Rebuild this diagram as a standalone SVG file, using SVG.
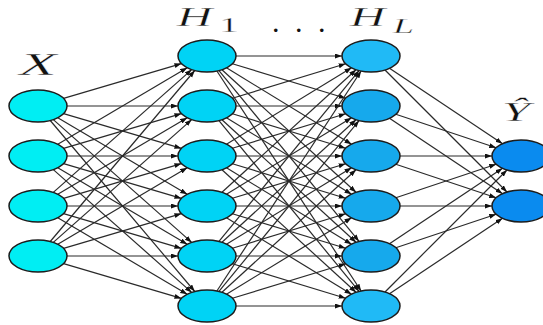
<svg xmlns="http://www.w3.org/2000/svg" width="543" height="325" viewBox="0 0 543 325">
<style>
.n ellipse{stroke:#1c1c1c;stroke-width:1.5}
.in{fill:#00eef3}
.h1{fill:#00d3f5}
.hla{fill:#20baf6}
.hlb{fill:#16a9ec}
.out{fill:#0a8bef}
#edges line{stroke:#2a2a2a;stroke-width:1.2;marker-end:url(#ah)}
.lbl{font-family:"Liberation Serif","Times New Roman",serif;fill:#111;stroke:#fff;stroke-width:0.35}
.it{font-style:italic}
</style>
<defs>
<marker id="ah" markerUnits="userSpaceOnUse" markerWidth="8" markerHeight="6" refX="7" refY="2.5" orient="auto">
<path d="M0,0 L7,2.5 L0,5 z" fill="#111"/>
</marker>
</defs>
<rect width="543" height="325" fill="#fff"/>
<g id="edges">
<line x1="63.56" y1="98.44" x2="181.44" y2="63.56"/>
<line x1="67" y1="106" x2="178" y2="106"/>
<line x1="63.56" y1="113.56" x2="181.44" y2="148.44"/>
<line x1="57.78" y1="117.7" x2="187.22" y2="194.3"/>
<line x1="53.31" y1="119.59" x2="191.69" y2="242.41"/>
<line x1="50.25" y1="120.5" x2="194.75" y2="291.5"/>
<line x1="57.78" y1="144.3" x2="187.22" y2="67.7"/>
<line x1="63.56" y1="148.44" x2="181.44" y2="113.56"/>
<line x1="67" y1="156" x2="178" y2="156"/>
<line x1="63.56" y1="163.56" x2="181.44" y2="198.44"/>
<line x1="57.78" y1="167.7" x2="187.22" y2="244.3"/>
<line x1="53.31" y1="169.59" x2="191.69" y2="292.41"/>
<line x1="53.31" y1="192.41" x2="191.69" y2="69.59"/>
<line x1="57.78" y1="194.3" x2="187.22" y2="117.7"/>
<line x1="63.56" y1="198.44" x2="181.44" y2="163.56"/>
<line x1="67" y1="206" x2="178" y2="206"/>
<line x1="63.56" y1="213.56" x2="181.44" y2="248.44"/>
<line x1="57.78" y1="217.7" x2="187.22" y2="294.3"/>
<line x1="50.25" y1="241.5" x2="194.75" y2="70.5"/>
<line x1="53.31" y1="242.41" x2="191.69" y2="119.59"/>
<line x1="57.78" y1="244.3" x2="187.22" y2="167.7"/>
<line x1="63.56" y1="248.44" x2="181.44" y2="213.56"/>
<line x1="67" y1="256" x2="178" y2="256"/>
<line x1="63.56" y1="263.56" x2="181.44" y2="298.44"/>
<line x1="236" y1="56" x2="342" y2="56"/>
<line x1="232.38" y1="63.74" x2="345.62" y2="98.26"/>
<line x1="226.46" y1="67.86" x2="351.54" y2="144.14"/>
<line x1="221.98" y1="69.7" x2="356.02" y2="192.3"/>
<line x1="218.95" y1="70.58" x2="359.05" y2="241.42"/>
<line x1="216.87" y1="71.04" x2="361.13" y2="290.96"/>
<line x1="232.38" y1="98.26" x2="345.62" y2="63.74"/>
<line x1="236" y1="106" x2="342" y2="106"/>
<line x1="232.38" y1="113.74" x2="345.62" y2="148.26"/>
<line x1="226.46" y1="117.86" x2="351.54" y2="194.14"/>
<line x1="221.98" y1="119.7" x2="356.02" y2="242.3"/>
<line x1="218.95" y1="120.58" x2="359.05" y2="291.42"/>
<line x1="226.46" y1="144.14" x2="351.54" y2="67.86"/>
<line x1="232.38" y1="148.26" x2="345.62" y2="113.74"/>
<line x1="236" y1="156" x2="342" y2="156"/>
<line x1="232.38" y1="163.74" x2="345.62" y2="198.26"/>
<line x1="226.46" y1="167.86" x2="351.54" y2="244.14"/>
<line x1="221.98" y1="169.7" x2="356.02" y2="292.3"/>
<line x1="221.98" y1="192.3" x2="356.02" y2="69.7"/>
<line x1="226.46" y1="194.14" x2="351.54" y2="117.86"/>
<line x1="232.38" y1="198.26" x2="345.62" y2="163.74"/>
<line x1="236" y1="206" x2="342" y2="206"/>
<line x1="232.38" y1="213.74" x2="345.62" y2="248.26"/>
<line x1="226.46" y1="217.86" x2="351.54" y2="294.14"/>
<line x1="218.95" y1="241.42" x2="359.05" y2="70.58"/>
<line x1="221.98" y1="242.3" x2="356.02" y2="119.7"/>
<line x1="226.46" y1="244.14" x2="351.54" y2="167.86"/>
<line x1="232.38" y1="248.26" x2="345.62" y2="213.74"/>
<line x1="236" y1="256" x2="342" y2="256"/>
<line x1="232.38" y1="263.74" x2="345.62" y2="298.26"/>
<line x1="216.87" y1="290.96" x2="361.13" y2="71.04"/>
<line x1="218.95" y1="291.42" x2="359.05" y2="120.58"/>
<line x1="221.98" y1="292.3" x2="356.02" y2="169.7"/>
<line x1="226.46" y1="294.14" x2="351.54" y2="217.86"/>
<line x1="232.38" y1="298.26" x2="345.62" y2="263.74"/>
<line x1="236" y1="306" x2="342" y2="306"/>
<line x1="389.49" y1="68.33" x2="502.51" y2="143.67"/>
<line x1="385.01" y1="70.01" x2="506.99" y2="191.99"/>
<line x1="395.82" y1="114.27" x2="496.18" y2="147.73"/>
<line x1="389.49" y1="118.33" x2="502.51" y2="193.67"/>
<line x1="400" y1="156" x2="492" y2="156"/>
<line x1="395.82" y1="164.27" x2="496.18" y2="197.73"/>
<line x1="395.82" y1="197.73" x2="496.18" y2="164.27"/>
<line x1="400" y1="206" x2="492" y2="206"/>
<line x1="389.49" y1="243.67" x2="502.51" y2="168.33"/>
<line x1="395.82" y1="247.73" x2="496.18" y2="214.27"/>
<line x1="385.01" y1="291.99" x2="506.99" y2="170.01"/>
<line x1="389.49" y1="293.67" x2="502.51" y2="218.33"/>
</g>
<g id="x1" class="n"><ellipse class="in" cx="38" cy="106" rx="29" ry="16"/></g>
<g id="x2" class="n"><ellipse class="in" cx="38" cy="156" rx="29" ry="16"/></g>
<g id="x3" class="n"><ellipse class="in" cx="38" cy="206" rx="29" ry="16"/></g>
<g id="x4" class="n"><ellipse class="in" cx="38" cy="256" rx="29" ry="16"/></g>
<g id="h1_1" class="n"><ellipse class="h1" cx="207" cy="56" rx="29" ry="16"/></g>
<g id="h1_2" class="n"><ellipse class="h1" cx="207" cy="106" rx="29" ry="16"/></g>
<g id="h1_3" class="n"><ellipse class="h1" cx="207" cy="156" rx="29" ry="16"/></g>
<g id="h1_4" class="n"><ellipse class="h1" cx="207" cy="206" rx="29" ry="16"/></g>
<g id="h1_5" class="n"><ellipse class="h1" cx="207" cy="256" rx="29" ry="16"/></g>
<g id="h1_6" class="n"><ellipse class="h1" cx="207" cy="306" rx="29" ry="16"/></g>
<g id="hl_1" class="n"><ellipse class="hla" cx="371" cy="56" rx="29" ry="16"/></g>
<g id="hl_2" class="n"><ellipse class="hlb" cx="371" cy="106" rx="29" ry="16"/></g>
<g id="hl_3" class="n"><ellipse class="hlb" cx="371" cy="156" rx="29" ry="16"/></g>
<g id="hl_4" class="n"><ellipse class="hlb" cx="371" cy="206" rx="29" ry="16"/></g>
<g id="hl_5" class="n"><ellipse class="hlb" cx="371" cy="256" rx="29" ry="16"/></g>
<g id="hl_6" class="n"><ellipse class="hla" cx="371" cy="306" rx="29" ry="16"/></g>
<g id="y1" class="n"><ellipse class="out" cx="521" cy="156" rx="29" ry="16"/></g>
<g id="y2" class="n"><ellipse class="out" cx="521" cy="206" rx="29" ry="16"/></g>
<g id="labels" class="lbl">
<text class="it" transform="translate(19,75) scale(2.0,1)" font-size="31">X</text>
<text class="it" transform="translate(177,26) scale(1.8,1)" font-size="27">H</text>
<text transform="translate(219,32) scale(1.8,1)" font-size="22">1</text>
<text x="272 295 318" y="32" font-size="30" stroke="none">...</text>
<text class="it" transform="translate(350,26) scale(1.8,1)" font-size="27">H</text>
<text class="it" transform="translate(393,33) scale(1.8,1)" font-size="21">L</text>
<text class="it" transform="translate(502,121) scale(1.8,1)" font-size="28">Ŷ</text>
</g>
</svg>
